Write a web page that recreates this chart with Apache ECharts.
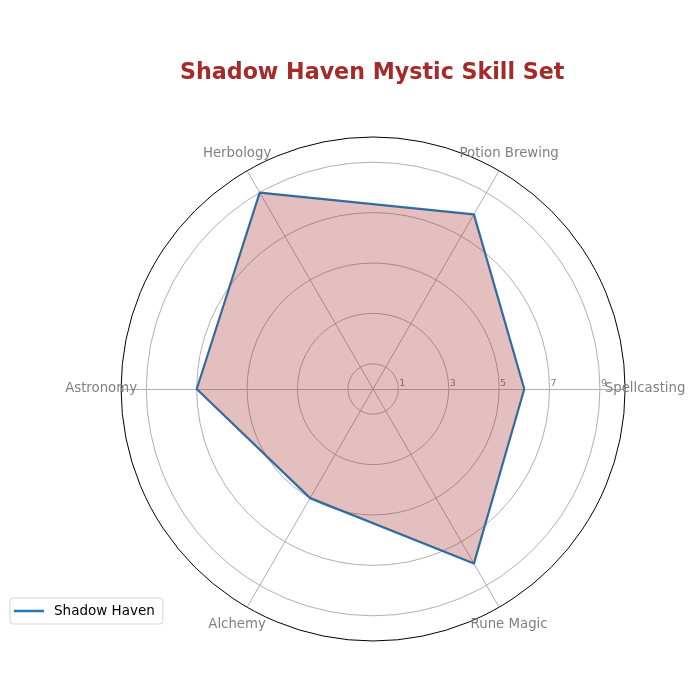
<!DOCTYPE html>
<html><head><meta charset="utf-8">
<script src="https://cdn.jsdelivr.net/npm/echarts@6/dist/echarts.min.js"></script>
<style>html,body{margin:0;padding:0;background:#fff}#c{width:700px;height:700px}</style>
</head><body><div id="c"></div>
<script>
const categories = ['Spellcasting', 'Potion Brewing', 'Herbology', 'Astronomy', 'Alchemy', 'Rune Magic'];
const seriesName = 'Shadow Haven';
const values = [6, 8, 9, 7, 5, 8];
const tickValues = [1, 3, 5, 7, 9];
const rMax = 10;

const FONT = 'DejaVu Sans';
const center = ['53.3%', '55.57%'];
const radius = 252;

const chart = echarts.init(document.getElementById('c'), null, {renderer: 'canvas'});
chart.setOption({
  backgroundColor: '#fff',
  animation: false,
  title: {
    text: 'Shadow Haven Mystic Skill Set',
    left: 175, top: 57,
    textStyle: {fontFamily: FONT, fontSize: 22.2, fontWeight: 'bold', color: '#a52a2a'}
  },
  legend: {
    left: 10, top: 598, orient: 'vertical',
    data: [seriesName],
    icon: 'rect', itemWidth: 30, itemHeight: 2.5, itemGap: 5,
    padding: [6, 8, 6, 4],
    borderColor: '#d5d5d5', borderWidth: 1, borderRadius: 3,
    textStyle: {fontFamily: FONT, fontSize: 13.5, color: '#000', padding: [0, 0, 0, 5]}
  },
  polar: {center: center, radius: radius},
  angleAxis: {
    type: 'value', min: 0, max: 360, startAngle: 0,
    axisLine: {show: true, lineStyle: {color: '#000', width: 1}},
    axisTick: {show: false}, axisLabel: {show: false}, splitLine: {show: false}
  },
  radiusAxis: {
    type: 'value', min: 0, max: rMax,
    axisLine: {show: false},
    axisTick: {show: false, customValues: tickValues},
    axisLabel: {
      show: true, customValues: tickValues,
      fontFamily: FONT, fontSize: 9.5, color: '#808080',
      align: 'left', verticalAlign: 'bottom', margin: 0, padding: [0, 0, 0, 1]
    },
    splitLine: {show: true, lineStyle: {color: '#b0b0b0', width: 1}}
  },
  radar: {
    center: center, radius: radius, startAngle: 0, shape: 'circle',
    indicator: categories.map(n => ({name: n, min: 0, max: rMax})),
    nameGap: 20,
    axisName: {fontFamily: FONT, fontSize: 13.3, color: '#808080', align: 'center', verticalAlign: 'middle'},
    axisLine: {lineStyle: {color: '#b0b0b0', width: 1}},
    splitLine: {show: false}, splitArea: {show: false}, axisTick: {show: false}, axisLabel: {show: false}
  },
  series: [{
    type: 'radar', name: seriesName, symbol: 'none',
    itemStyle: {color: '#1f77b4'},
    lineStyle: {color: '#1f77b4', width: 2.2},
    areaStyle: {color: 'rgba(165,42,42,0.3)', opacity: 1},
    data: [{value: values, name: seriesName}]
  }]
});
</script></body></html>
